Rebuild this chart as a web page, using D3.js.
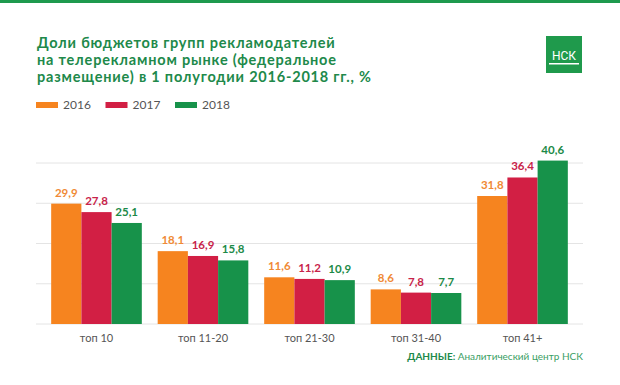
<!DOCTYPE html>
<html>
<head>
<meta charset="utf-8">
<script src="https://cdn.jsdelivr.net/npm/d3@7"></script>
<style>
  body { margin: 0; background: #fff; }
  svg { display: block; font-family: "Lato", "DejaVu Sans", sans-serif; }
</style>
</head>
<body>
<div id="chart"></div>
<script>
// data
const groups = ["топ 10", "топ 11-20", "топ 21-30", "топ 31-40", "топ 41+"];
const years = ["2016", "2017", "2018"];
const v2016 = [29.9, 18.1, 11.6, 8.6, 31.8];
const v2017 = [27.8, 16.9, 11.2, 7.8, 36.4];
const v2018 = [25.1, 15.8, 10.9, 7.7, 40.6];
const yTicks = [0, 10, 20, 30, 40];
const titleLines = [
  "Доли бюджетов групп рекламодателей",
  "на телерекламном рынке (федеральное",
  "размещение) в 1 полугодии 2016-2018 гг., %"
];

const barColors = ["#f6841f", "#d21f44", "#17924a"];
const labelColors = ["#f08a36", "#c8234a", "#1c8a48"];
const green = "#20894a";

const W = 620, H = 385;
const svg = d3.select("#chart").append("svg")
  .attr("width", W).attr("height", H);

// top green stripe
svg.append("rect").attr("x", 0).attr("y", 0).attr("width", W).attr("height", 3)
  .attr("fill", "#1e9a4e");

// title
svg.append("g").selectAll("text")
  .data(titleLines).join("text")
  .attr("x", 37)
  .attr("y", (d, i) => 47.5 + i * 17.3)
  .attr("fill", green)
  .attr("font-size", 14.5)
  .attr("letter-spacing", 0.8)
  .attr("font-weight", "bold")
  .text(d => d);

// logo
const logo = svg.append("g").attr("transform", "translate(546,36)");
logo.append("rect").attr("width", 36).attr("height", 37).attr("fill", "#1f9a4c");
logo.append("text").attr("x", 18).attr("y", 24).attr("text-anchor", "middle")
  .attr("fill", "#fff").attr("font-size", 12).attr("font-family", "Roboto, sans-serif")
  .text("НСК");
logo.append("rect").attr("x", 3).attr("y", 27).attr("width", 30).attr("height", 1.5)
  .attr("fill", "#fff");

// legend
const legend = svg.append("g").selectAll("g")
  .data(years).join("g")
  .attr("transform", (d, i) => `translate(${36 + i * 69.5},102)`);
legend.append("rect").attr("width", 22).attr("height", 6)
  .attr("fill", (d, i) => barColors[i]);
legend.append("text").attr("x", 27).attr("y", 7)
  .attr("font-size", 12).attr("fill", "#555")
  .text(d => d);

// scales
const x = d3.scaleBand().domain(groups).range([36, 583])
  .paddingInner(0.149).paddingOuter(0.1425);
const xs = d3.scaleBand().domain(years).range([0, x.bandwidth()]);
const y = d3.scaleLinear().domain([0, 40]).range([324, 163]);

// gridlines
svg.append("g").selectAll("line")
  .data(yTicks).join("line")
  .attr("x1", 36).attr("x2", 583)
  .attr("y1", d => y(d)).attr("y2", d => y(d))
  .attr("stroke", "#e4e4e4").attr("stroke-width", 1);

const series = [v2016, v2017, v2018];
const rows = [];
groups.forEach((g, gi) => {
  years.forEach((yr, si) => {
    rows.push({ g: g, yr: yr, si: si, v: series[si][gi] });
  });
});

svg.append("g").selectAll("rect")
  .data(rows).join("rect")
  .attr("x", d => x(d.g) + xs(d.yr))
  .attr("width", xs.bandwidth())
  .attr("y", d => y(d.v))
  .attr("height", d => y(0) - y(d.v))
  .attr("fill", d => barColors[d.si]);

svg.append("g").selectAll("text")
  .data(rows).join("text")
  .attr("x", d => x(d.g) + xs(d.yr) + xs.bandwidth() / 2)
  .attr("y", d => y(d.v) - 7)
  .attr("text-anchor", "middle")
  .attr("font-size", 11.5)
  .attr("font-weight", "bold")
  .attr("fill", d => labelColors[d.si])
  .text(d => d3.format(".1f")(d.v).replace(".", ","));

// category labels
svg.append("g").selectAll("text")
  .data(groups).join("text")
  .attr("x", d => x(d) + x.bandwidth() / 2)
  .attr("y", 342)
  .attr("text-anchor", "middle")
  .attr("font-size", 11)
  .attr("fill", "#555")
  .text(d => d);

// source
const src = svg.append("text").attr("x", 583).attr("y", 360)
  .attr("text-anchor", "end").attr("font-size", 10);
src.append("tspan").attr("font-weight", "bold").attr("fill", green).text("ДАННЫЕ: ");
src.append("tspan").attr("fill", "#3aa064").text("Аналитический центр НСК");
</script>
</body>
</html>
